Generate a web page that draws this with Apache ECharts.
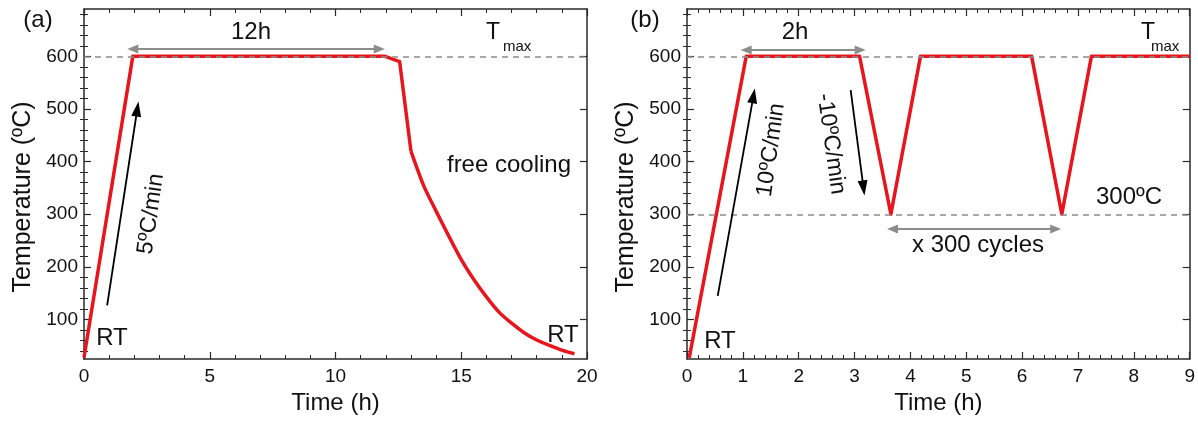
<!DOCTYPE html>
<html>
<head>
<meta charset="utf-8">
<script src="https://cdn.jsdelivr.net/npm/echarts@6/dist/echarts.min.js"></script>
<style>
html,body{margin:0;padding:0;background:#fff;}
#chart{width:1198px;height:421px;}
</style>
</head>
<body>
<div id="chart"></div>
<script>
// ---------- data ----------
// (a) heating ramp, 12 h dwell, start of cooling
const timeA = [0, 1.94, 11.97, 12.55, 13.0];
const tempA = [28, 600, 600, 590, 420];
// (a) free cooling curve
const coolTimeA = [13.0, 13.5, 14.0, 14.5, 15.0, 15.5, 16.0, 16.5, 17.0, 17.5, 18.0, 18.5, 19.0, 19.5];
const coolTempA = [420, 355, 306, 259, 214, 176, 143, 114, 93, 75, 61, 51, 42, 35];
// (b) thermal cycling
const timeB = [0.04, 1.06, 3.09, 3.65, 4.18, 6.17, 6.71, 7.24, 9];
const tempB = [27, 600, 600, 300, 600, 600, 300, 600, 600];
// reference levels
const T_MAX = 600;
const T_LOW = 300;
// annotation arrows [t, T]
const spanA = [[1.94, 614], [11.74, 614]];      // 12h
const rampArrowA = [[0.92, 127], [2.12, 500]];  // 5ºC/min
const spanB = [[1.06, 612], [3.10, 612]];       // 2h
const rampArrowB = [[0.55, 145], [1.19, 525]];  // 10ºC/min
const coolArrowB = [[2.93, 536], [3.16, 350]];  // -10ºC/min
const cycleArrowB = [[3.68, 272], [6.60, 272]]; // x 300 cycles
// axes
const xMaxA = 20, xStepA = 5;
const xMaxB = 9, xStepB = 1;
const yMin = 25, yMax = 690;
const yMajor = [100, 200, 300, 400, 500, 600];
const yMinor = [40, 60, 80, 120, 140, 160, 180, 220, 240, 260, 280, 320, 340, 360, 380,
                420, 440, 460, 480, 520, 540, 560, 580, 620, 640, 660, 680];

const zip = (a, b) => a.map((v, i) => [v, b[i]]);

const FONT = '"Liberation Sans", Arial, Helvetica, sans-serif';
const RED = '#e8151c';
const FRAME = '#2a2a2a';
const GREY = '#8c8c8c';

function xAxes(gridIndex, max, step) {
  const common = {
    type: 'value', gridIndex, min: 0, max, interval: step,
    axisLine: { show: true, onZero: false, lineStyle: { color: FRAME, width: 1.5 } },
    axisTick: { show: true, inside: true, length: 7, lineStyle: { color: FRAME, width: 1.2 } },
    minorTick: { show: true, splitNumber: 5, length: 4, lineStyle: { color: FRAME, width: 1 } },
    splitLine: { show: false }, minorSplitLine: { show: false }
  };
  return [
    Object.assign({}, common, {
      position: 'bottom',
      axisLabel: { show: true, color: '#111', fontSize: 19, fontFamily: FONT, margin: 8 },
      name: 'Time (h)', nameLocation: 'middle', nameGap: 30,
      nameTextStyle: { color: '#111', fontSize: 24, fontFamily: FONT }
    }),
    Object.assign({}, common, { position: 'top', axisLabel: { show: false } })
  ];
}

function yAxes(gridIndex) {
  const base = {
    type: 'value', gridIndex, min: yMin, max: yMax,
    splitLine: { show: false }
  };
  const line = { show: true, onZero: false, lineStyle: { color: FRAME, width: 1.5 } };
  return [
    Object.assign({}, base, {
      position: 'left', axisLine: line,
      axisTick: { show: true, inside: true, length: 7, customValues: yMajor, lineStyle: { color: FRAME, width: 1.2 } },
      axisLabel: { show: true, customValues: yMajor, color: '#111', fontSize: 19, fontFamily: FONT, margin: 6 }
    }),
    Object.assign({}, base, {
      position: 'right', axisLine: line,
      axisTick: { show: true, inside: true, length: 7, customValues: yMajor, lineStyle: { color: FRAME, width: 1.2 } },
      axisLabel: { show: false }
    }),
    Object.assign({}, base, {
      position: 'left', axisLine: { show: false },
      axisTick: { show: true, inside: true, length: 4, customValues: yMinor, lineStyle: { color: FRAME, width: 1 } },
      axisLabel: { show: false }
    }),
    Object.assign({}, base, {
      position: 'right', axisLine: { show: false },
      axisTick: { show: true, inside: true, length: 4, customValues: yMinor, lineStyle: { color: FRAME, width: 1 } },
      axisLabel: { show: false }
    })
  ];
}

function arrowLine(pair, both) {
  const head = { symbol: 'triangle', symbolSize: both ? [9, 11] : [10, 15] };
  return [
    Object.assign({ coord: pair[0] }, both ? head : { symbol: 'none' }),
    Object.assign({ coord: pair[1] }, head)
  ];
}

function arrowSeries(xi, yi, pair, color, width, both) {
  return {
    type: 'line', xAxisIndex: xi, yAxisIndex: yi, data: [], silent: true,
    markLine: {
      silent: true, animation: false, z: 6,
      label: { show: false },
      lineStyle: { color, width, type: 'solid' },
      itemStyle: { color },
      data: [arrowLine(pair, both)]
    }
  };
}

function refLines(levels) {
  return {
    silent: true, animation: false, z: 5, symbol: 'none',
    label: { show: false },
    lineStyle: { color: GREY, width: 1.6, type: [6, 5] },
    data: levels.map(v => ({ yAxis: v }))
  };
}

const txt = (x, y, text, size, extra, align) => Object.assign({
  type: 'text', x, y, silent: true, z: 10,
  style: { text, font: size + 'px ' + FONT, fill: '#111', align: align || 'center', verticalAlign: 'middle' }
}, extra || {});

const chart = echarts.init(document.getElementById('chart'), null, { renderer: 'canvas' });

chart.setOption({
  animation: false,
  backgroundColor: '#fff',
  grid: [
    { left: 84, top: 9, width: 503, height: 350, containLabel: false },
    { left: 687, top: 9, width: 503, height: 350, containLabel: false }
  ],
  xAxis: [].concat(xAxes(0, xMaxA, xStepA), xAxes(1, xMaxB, xStepB)),
  yAxis: [].concat(yAxes(0), yAxes(1)),
  series: [
    {
      name: 'heat A', type: 'line', xAxisIndex: 0, yAxisIndex: 0,
      data: zip(timeA, tempA), showSymbol: false, symbol: 'none',
      lineStyle: { color: RED, width: 3.5, join: 'round' }, z: 3,
      markLine: refLines([T_MAX])
    },
    {
      name: 'cool A', type: 'line', xAxisIndex: 0, yAxisIndex: 0,
      data: zip(coolTimeA, coolTempA), showSymbol: false, symbol: 'none',
      smooth: 0.25,
      lineStyle: { color: RED, width: 3.5, join: 'round' }, z: 3
    },
    {
      name: 'cycle B', type: 'line', xAxisIndex: 2, yAxisIndex: 4,
      data: zip(timeB, tempB), showSymbol: false, symbol: 'none',
      lineStyle: { color: RED, width: 3.5, join: 'round' }, z: 3,
      markLine: refLines([T_MAX, T_LOW])
    },
    arrowSeries(0, 0, spanA, GREY, 2, true),
    arrowSeries(0, 0, rampArrowA, '#000', 1.8, false),
    arrowSeries(2, 4, spanB, GREY, 2, true),
    arrowSeries(2, 4, rampArrowB, '#000', 1.8, false),
    arrowSeries(2, 4, coolArrowB, '#000', 1.8, false),
    arrowSeries(2, 4, cycleArrowB, GREY, 2, true)
  ],
  graphic: [
    // axis titles (y)
    txt(23, 197, 'Temperature (ºC)', 25, { rotation: Math.PI / 2 }),
    txt(626, 197, 'Temperature (ºC)', 25, { rotation: Math.PI / 2 }),
    // panel (a)
    txt(38, 20, '(a)', 24),
    txt(251, 32, '12h', 24),
    txt(486, 33, 'T', 23, null, 'left'),
    txt(503, 47, 'max', 15, null, 'left'),
    txt(509, 165, 'free cooling', 24),
    txt(112, 338, 'RT', 24),
    txt(563, 335, 'RT', 24),
    txt(151, 214, '5ºC/min', 23, { rotation: 1.43 }),
    // panel (b)
    txt(645, 20, '(b)', 24),
    txt(795, 32, '2h', 24),
    txt(1141, 33, 'T', 23, null, 'left'),
    txt(1151, 47, 'max', 15, null, 'left'),
    txt(1129, 197, '300ºC', 24),
    txt(978, 245, 'x 300 cycles', 24),
    txt(720, 341, 'RT', 24),
    txt(771, 150, '10ºC/min', 23, { rotation: 1.43 }),
    txt(831, 144, '-10ºC/min', 23, { rotation: -1.43 })
  ]
});
</script>
</body>
</html>
